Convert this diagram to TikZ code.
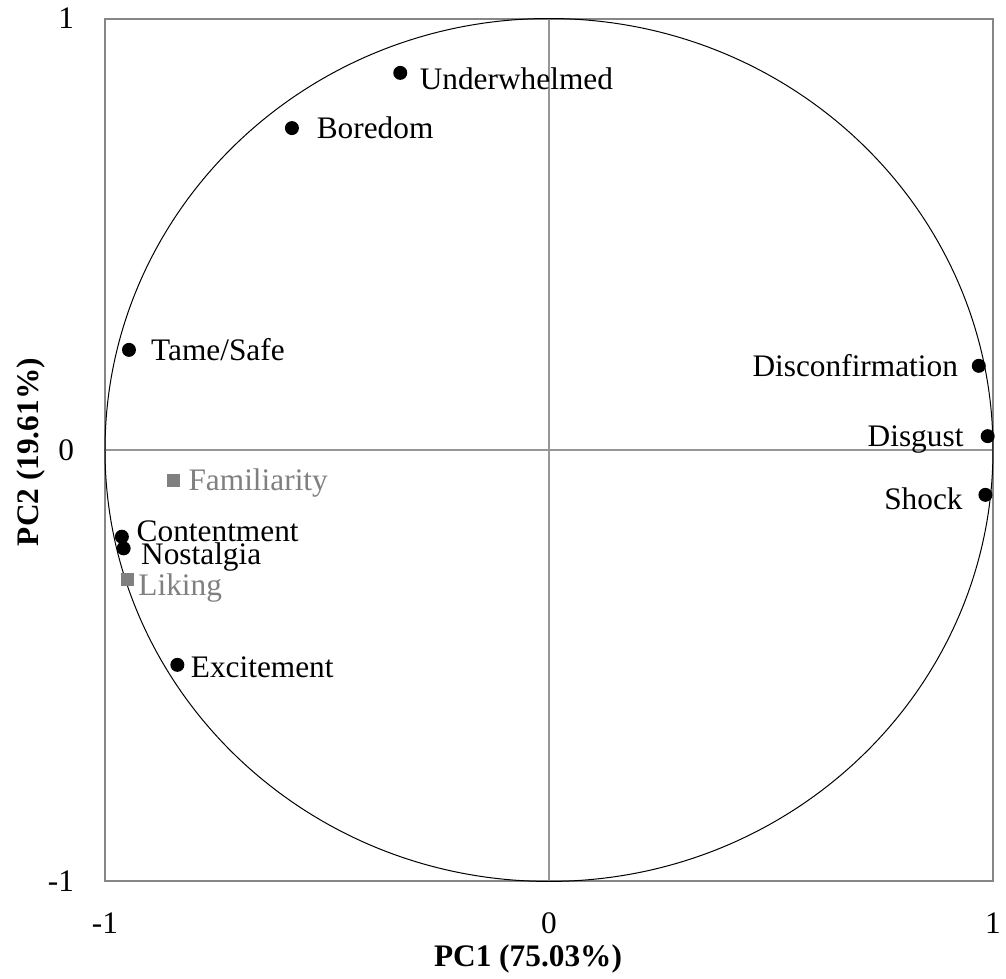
\documentclass[tikz,border=0pt]{standalone}
\usepackage{fontspec}
\setmainfont{Liberation Serif}
\usepackage{tikz}
\usetikzlibrary{positioning}
\usepackage{xcolor}

\definecolor{framegray}{RGB}{134,134,134}
\definecolor{axisgray}{RGB}{150,150,150}
\definecolor{tickgray}{RGB}{185,185,185}
\definecolor{suppgray}{RGB}{128,128,128}

\begin{document}
\begin{tikzpicture}[x = 333pt, y = 323.6pt, font = \fontsize{23.5}{28}\selectfont,
    dot/.style = {circle, fill = black, inner sep = 0pt, minimum size = 10.5pt},
    suppdot/.style = {rectangle, fill = suppgray, inner sep = 0pt, minimum size = 10pt},
    lab/.style = {inner sep = 0pt, text height = 15.5pt, text depth = 0pt},
    supplab/.style = {lab, text = suppgray},
    axtitle/.style = {lab, font = \fontsize{23.5}{28}\selectfont\bfseries}]
    \useasboundingbox (-1.2365,-1.2259) rectangle (1.0293,1.0429);

    % frame, axes and unit circle
    \draw[framegray, line width = 1.5pt] (-1,-1) rectangle (1,1);
    \draw[axisgray, line width = 1pt] (-1,0) -- (1,0);
    \draw[axisgray, line width = 1pt] (0,-1) -- (0,1);
    \draw[tickgray, line width = 2.2pt] (-0.02,0) -- (0.02,0);
    \draw[tickgray, line width = 2.2pt] (0,-0.021) -- (0,0.021);
    \draw[axisgray, line width = 1pt] (-0.02,0) -- (0.02,0);
    \draw[axisgray, line width = 1pt] (0,-0.021) -- (0,0.021);
    \draw[black, line width = 0.75pt] (0,0) circle [x radius = 333pt, y radius = 323.6pt];

    % tick labels
    \node[lab, anchor = east, xshift = -23pt] (ytop) at (-1,1) {1};
    \node[lab, anchor = east, xshift = -23pt] (ymid) at (-1,0) {0};
    \node[lab, anchor = east, xshift = -23pt] (ybot) at (-1,-1) {-1};
    \node[lab, yshift = -31pt] (xleft) at (-1,-1) {-1};
    \node[lab, yshift = -31pt] (xmid) at (0,-1) {0};
    \node[lab, yshift = -31pt] (xright) at (1,-1) {1};

    % axis titles
    \node[axtitle] (pcone) at (-0.0473,-1.1738) {PC1 (75.03\%)};
    \node[axtitle, rotate = 90] (pctwo) at (-1.1734,-0.005) {PC2 (19.61\%)};

    % emotions
    \node[dot] (under) at (-0.335,0.874) {};
    \node[dot] (bored) at (-0.579,0.746) {};
    \node[dot] (tame) at (-0.946,0.232) {};
    \node[dot] (disconf) at (0.968,0.195) {};
    \node[dot] (disgust) at (0.988,0.032) {};
    \node[dot] (shock) at (0.983,-0.104) {};
    \node[dot] (content) at (-0.962,-0.201) {};
    \node[dot] (nostal) at (-0.958,-0.228) {};
    \node[dot] (excite) at (-0.837,-0.498) {};

    \node[lab, right = 9pt of under, yshift = -5pt] (underL) {Underwhelmed};
    \node[lab, right = 13pt of bored] (boredL) {Boredom};
    \node[lab, right = 11pt of tame] (tameL) {Tame/Safe};
    \node[lab, left = 10pt of disconf] (disconfL) {Disconfirmation};
    \node[lab, left = 12.5pt of disgust] (disgustL) {Disgust};
    \node[lab, left = 11.5pt of shock, yshift = -3pt] (shockL) {Shock};
    \node[lab, right = 5.5pt of content, yshift = 4.5pt] (contentL) {Contentment};
    \node[lab, right = 7.5pt of nostal, yshift = -4.5pt] (nostalL) {Nostalgia};
    \node[lab, right = 4.5pt of excite, yshift = -2pt] (exciteL) {Excitement};

    % supplementary variables
    \node[suppdot] (famil) at (-0.846,-0.070) {};
    \node[suppdot] (liking) at (-0.950,-0.300) {};
    \node[supplab, right = 6pt of famil] (familL) {Familiarity};
    \node[supplab, right = 3pt of liking, yshift = -4.5pt] (likingL) {Liking};

\end{tikzpicture}
\end{document}
